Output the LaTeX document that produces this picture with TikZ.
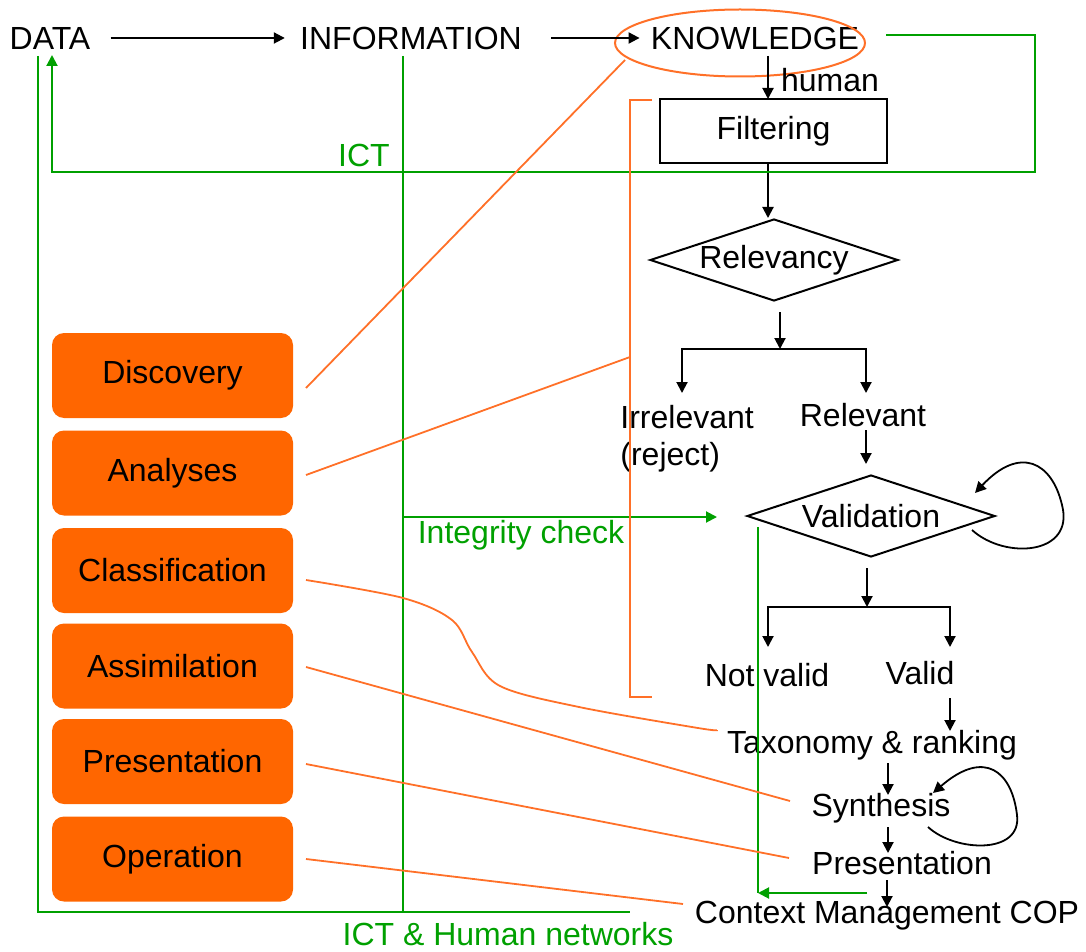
\documentclass[tikz,border=0pt]{standalone}
\usepackage{fontspec}
\setmainfont{Liberation Sans}
\usetikzlibrary{arrows.meta,shapes.geometric}
\definecolor{grn}{RGB}{0,160,0}
\definecolor{org}{RGB}{255,102,0}
\definecolor{orgline}{RGB}{255,112,40}
\begin{document}
\begin{tikzpicture}[x=0.5pt,y=-0.5pt,font=\fontsize{16}{19}\selectfont,
  txt/.style={inner sep=0pt},
  gtxt/.style={inner sep=0pt,text=grn},
  bline/.style={draw=black,line width=1pt},
  blk/.style={draw=black,line width=1pt,-{Triangle[length=5.5pt,width=5.5pt]}},
  gline/.style={draw=grn,line width=1pt},
  garrow/.style={draw=grn,line width=1pt,-{Triangle[length=5.5pt,width=5.5pt]}},
  oline/.style={draw=orgline,line width=0.9pt},
  obox/.style={fill=org,rounded corners=6pt,minimum width=120.5pt,minimum height=42.5pt,inner sep=0pt},
  dia/.style={draw=black,line width=1pt,diamond,aspect=2.95,minimum width=124pt,minimum height=41pt,inner sep=0pt}]
\useasboundingbox (0,0) rectangle (1086,952);

% top row
\node[txt] (data) at (50,38) {DATA};
\node[txt] (info) at (411,38) {INFORMATION};
\node[txt] (know) at (755,38) {KNOWLEDGE};
\node[draw=orgline,line width=1pt,ellipse,minimum width=125pt,minimum height=33.5pt,inner sep=0pt] (kell) at (740,43) {};
\draw[blk,shorten <=10pt,shorten >=7.5pt] (data) -- (info);
\draw[blk,shorten <=14.5pt,shorten >=5.5pt] (info) -- (know);

% flow chart
\node[draw=black,line width=1pt,minimum width=113.5pt,minimum height=32pt,inner sep=0pt] (filt) at (773.5,131) {Filtering};
\node[txt] (human) at (830,80) {human};
\node[dia] (relv) at (774,260) {Relevancy};
\node[txt,anchor=west] (irr) at (620,417) {Irrelevant};
\node[txt,anchor=west] (rej) at (620,457) {(reject)};
\node[txt] (rel) at (863,415) {Relevant};
\node[dia] (val) at (871,516) {Validation};
\node[txt] (notv) at (767,675) {Not valid};
\node[txt] (valid) at (920,673) {Valid};
\node[txt] (tax) at (872,745) {Taxonomy \& ranking};
\node[txt] (syn) at (881,808) {Synthesis};
\node[txt] (pres) at (902,863) {Presentation};
\node[txt] (ctx) at (887,916) {Context Management COP};

\coordinate (kA) at (768,56);
\coordinate (fA) at (768,99);
\coordinate (fB) at (768,163);
\coordinate (rA) at (768,218);
\coordinate (rB) at (780,312);
\coordinate (brM) at (780,349);
\coordinate (irrT) at (682,393);
\coordinate (relT) at (866,393);
\coordinate (relB) at (866,430);
\coordinate (valT) at (866,464);
\coordinate (vB) at (867,568);
\coordinate (vM) at (867,607);
\coordinate (nvT) at (768,647);
\coordinate (vdT) at (950,647);
\coordinate (vdB) at (950,698);
\coordinate (taxT) at (950,731);
\coordinate (taxB) at (888,763);
\coordinate (synT) at (888,795);
\coordinate (synB) at (888,827);
\coordinate (presT) at (888,853);
\coordinate (presB) at (887,880);
\coordinate (ctxT) at (887,907);

\draw[blk] (kA) -- (fA);
\draw[blk] (fB) -- (rA);
\draw[blk] (rB) -- (brM);
\draw[blk] (brM) -| (irrT);
\draw[blk] (brM) -| (relT);
\draw[blk] (relB) -- (valT);
\draw[blk] (vB) -- (vM);
\draw[blk] (vM) -| (nvT);
\draw[blk] (vM) -| (vdT);
\draw[blk] (vdB) -- (taxT);
\draw[blk] (taxB) -- (synT);
\draw[blk] (synB) -- (presT);
\draw[blk] (presB) -- (ctxT);

% self loops
\coordinate (vl1) at (972,530);
\coordinate (vl2) at (975,493);
\draw[blk,line width=0.9pt] (vl1) .. controls (1005,560) and (1075,555) .. (1062,505) .. controls (1052,462) and (1020,445) .. (vl2);
\coordinate (sl1) at (928,827);
\coordinate (sl2) at (933,793);
\draw[blk,line width=0.9pt] (sl1) .. controls (955,852) and (1022,855) .. (1017,815) .. controls (1012,772) and (985,748) .. (sl2);

% green connectors
\coordinate (gK) at (886,35);
\coordinate (gKR) at (1035,35);
\coordinate (ictE) at (1035,172);
\coordinate (ictW) at (52,172);
\coordinate (ictT) at (52,55);
\draw[garrow] (gK) -- (gKR) -- (ictE) -- (ictW) -- (ictT);
\node[gtxt] (ict) at (364,155) {ICT};

\coordinate (dL) at (38,56);
\coordinate (bL) at (38,912);
\coordinate (bR) at (630,912);
\coordinate (iT) at (403,56);
\coordinate (iB) at (403,912);
\draw[gline] (dL) -- (bL) -- (bR);
\draw[gline] (iT) -- (iB);
\coordinate (intS) at (403,517);
\coordinate (intE) at (717,517);
\draw[garrow] (intS) -- (intE);
\node[gtxt] (integ) at (521,535) {Integrity check};
\node[gtxt] (net) at (508,934) {ICT \& Human networks};

\coordinate (vG) at (758,527);
\coordinate (vGb) at (758,893);
\coordinate (pG) at (867,893);
\draw[gline] (vG) -- (vGb);
\draw[garrow] (pG) -- (vGb);

% orange bracket
\coordinate (brT) at (652,100);
\coordinate (brTL) at (630,100);
\coordinate (brBL) at (630,697);
\coordinate (brB) at (652,697);
\draw[oline,line width=1pt] (brT) -- (brTL) -- (brBL) -- (brB);

% orange boxes
\node[obox] (disc) at (172.5,375.5) {Discovery};
\node[obox] (anal) at (172.5,473) {Analyses};
\node[obox] (clas) at (172.5,570.5) {Classification};
\node[obox] (assi) at (172.5,666) {Assimilation};
\node[obox] (opres) at (172.5,761.5) {Presentation};
\node[obox] (oper) at (172.5,859) {Operation};

% orange links
\coordinate (oD) at (306,388);
\coordinate (oK) at (625,60);
\draw[oline] (oD) -- (oK);
\coordinate (oA) at (306,475);
\coordinate (oAb) at (630,357);
\draw[oline] (oA) -- (oAb);
\draw[oline] plot[smooth,tension=0.55] coordinates {(306,580) (403,598) (452,620) (472,652) (500,686) (579,707) (698,728) (717,730)};
\coordinate (oS) at (306,667);
\coordinate (oSe) at (790,801);
\draw[oline] (oS) -- (oSe);
\coordinate (oP) at (306,764);
\coordinate (oPe) at (789,858);
\draw[oline] (oP) -- (oPe);
\coordinate (oO) at (306,859);
\coordinate (oOe) at (683,904);
\draw[oline] (oO) -- (oOe);
\end{tikzpicture}
\end{document}
